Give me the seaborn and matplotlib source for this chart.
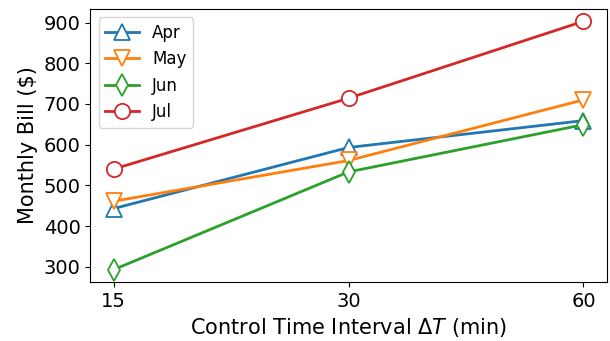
import matplotlib
matplotlib.use('Agg')
import matplotlib.pyplot as plt
import seaborn as sns
import pandas as pd

intervals = ['15', '30', '60']
apr = [443, 593, 659]
may = [461, 561, 710]
jun = [293, 533, 649]
jul = [540, 714, 903]

months = ['Apr', 'May', 'Jun', 'Jul']
markers = ['^', 'v', 'd', 'o']
colors = ['#1f77b4', '#ff7f0e', '#2ca02c', '#d62728']

rows = []
for m, vals in zip(months, [apr, may, jun, jul]):
    for x, v in zip(intervals, vals):
        rows.append({'Interval': x, 'Bill': v, 'Month': m})
df = pd.DataFrame(rows)

plt.rcParams['font.size'] = 14
fig, ax = plt.subplots(figsize=(6.1, 3.41), dpi=100)

for m, mk, c in zip(months, markers, colors):
    sns.lineplot(data=df[df.Month == m], x='Interval', y='Bill', ax=ax,
                 color=c, marker=mk, markersize=11, markerfacecolor='white',
                 markeredgecolor=c, markeredgewidth=1.3, linewidth=2, label=m)

ax.set_xlabel(r'Control Time Interval $\Delta T$ (min)', fontsize=15)
ax.set_ylabel('Monthly Bill ($)', fontsize=15)
ax.tick_params(labelsize=14)
ax.legend(loc='upper left', fontsize=12)

fig.subplots_adjust(left=0.148, right=0.995, top=0.974, bottom=0.173)
fig.savefig('out.png', dpi=100)
